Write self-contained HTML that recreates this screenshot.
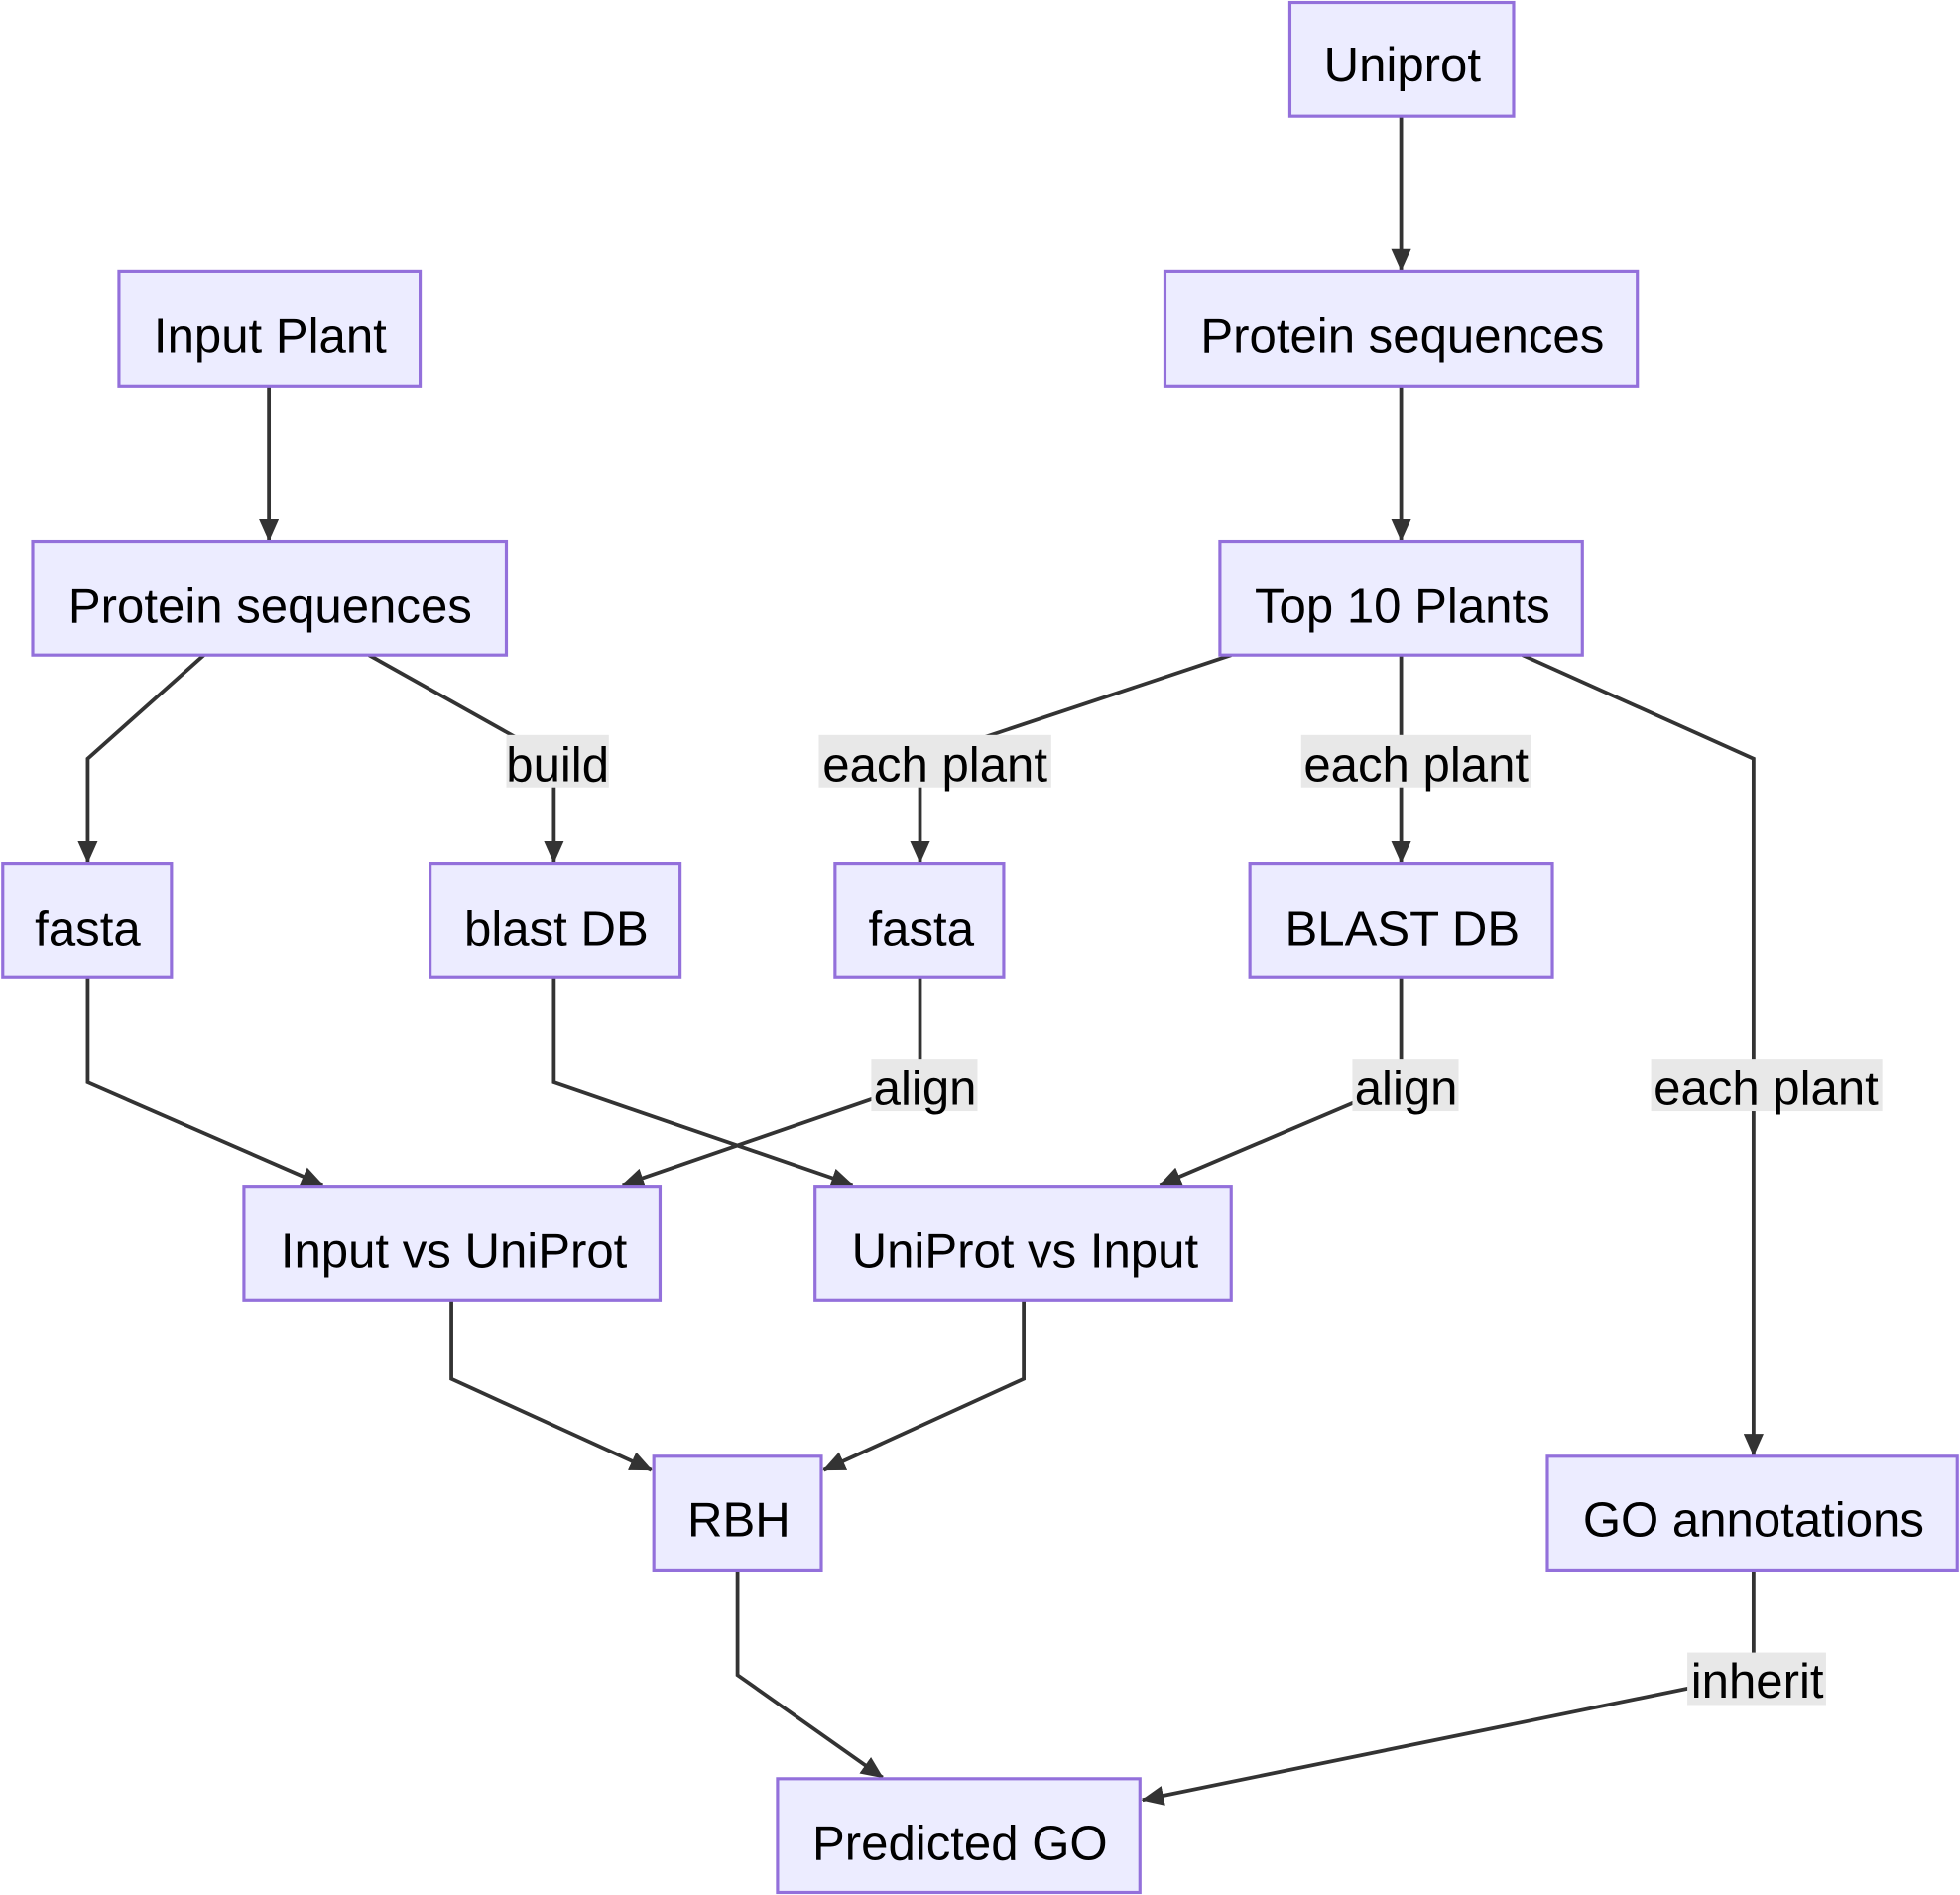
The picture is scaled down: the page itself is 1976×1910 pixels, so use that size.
<!DOCTYPE html>
<html><head><meta charset="utf-8"><style>
html,body{margin:0;padding:0;background:#fff;}
svg{display:block;}
text{font-family:"Liberation Sans",Arial,sans-serif;fill:#000;}
</style></head><body>
<svg width="1976" height="1910" viewBox="0 0 1568 1516" xmlns="http://www.w3.org/2000/svg">
<defs>
<marker id="a" markerWidth="18" markerHeight="16" refX="17" refY="8" orient="auto" markerUnits="userSpaceOnUse" viewBox="0 0 18 16">
<path d="M0,0 L18,8 L0,16 z" fill="#333"/>
</marker>
</defs>
<g fill="none" stroke="#333" stroke-width="3" marker-end="url(#a)">
<path d="M1121,93 L1121,216"/>
<path d="M1121,309 L1121,432"/>
<path d="M215,309 L215,432"/>
<path d="M163,524 L70,607 L70,690"/>
<path d="M295,524 L443,607 L443,690"/>
<path d="M985,524 L736,607 L736,690"/>
<path d="M1121,524 L1121,690"/>
<path d="M1218,524 L1403,607 L1403,1164"/>
<path d="M70,782 L70,866 L258,948"/>
<path d="M443,782 L443,866 L682,948"/>
<path d="M736,782 L736,866 L498,948"/>
<path d="M1121,782 L1121,866 L928,948"/>
<path d="M361,1040 L361,1103 L521,1176"/>
<path d="M819,1040 L819,1103 L659,1176"/>
<path d="M590,1256 L590,1340 L706,1422"/>
<path d="M1403,1256 L1403,1340 L914,1440"/>
</g>
<g fill="#e8e8e8">
<rect x="405" y="588" width="82" height="42"/>
<rect x="655" y="588" width="186" height="42"/>
<rect x="1041" y="588" width="184" height="42"/>
<rect x="1321" y="847" width="185" height="42"/>
<rect x="697" y="847" width="85" height="42"/>
<rect x="1082" y="847" width="85" height="42"/>
<rect x="1350" y="1322" width="111" height="42"/>
</g>
<g font-size="39" text-anchor="middle">
<text x="446" y="625">build</text>
<text x="748" y="625">each plant</text>
<text x="1133" y="625">each plant</text>
<text x="1413" y="884">each plant</text>
<text x="740" y="884">align</text>
<text x="1125" y="884">align</text>
<text x="1406" y="1358">inherit</text>
</g>
<g fill="#ECECFF" stroke="#9370DB" stroke-width="2.5">
<rect x="1032" y="2" width="179" height="91"/>
<rect x="932" y="217" width="378" height="92"/>
<rect x="95" y="217" width="241" height="92"/>
<rect x="26" y="433" width="379" height="91"/>
<rect x="976" y="433" width="290" height="91"/>
<rect x="2" y="691" width="135" height="91"/>
<rect x="344" y="691" width="200" height="91"/>
<rect x="668" y="691" width="135" height="91"/>
<rect x="1000" y="691" width="242" height="91"/>
<rect x="195" y="949" width="333" height="91"/>
<rect x="652" y="949" width="333" height="91"/>
<rect x="523" y="1165" width="134" height="91"/>
<rect x="1238" y="1165" width="328" height="91"/>
<rect x="622" y="1423" width="290" height="91"/>
</g>
<g font-size="39" text-anchor="middle">
<text x="1122" y="65">Uniprot</text>
<text x="1122" y="282">Protein sequences</text>
<text x="216" y="282">Input Plant</text>
<text x="216" y="498">Protein sequences</text>
<text x="1122" y="498">Top 10 Plants</text>
<text x="70" y="756">fasta</text>
<text x="445" y="756">blast DB</text>
<text x="737" y="756">fasta</text>
<text x="1122" y="756">BLAST DB</text>
<text x="363" y="1014">Input vs UniProt</text>
<text x="820" y="1014">UniProt vs Input</text>
<text x="591" y="1229">RBH</text>
<text x="1403" y="1229">GO annotations</text>
<text x="768" y="1488">Predicted GO</text>
</g>
</svg>
</body></html>
